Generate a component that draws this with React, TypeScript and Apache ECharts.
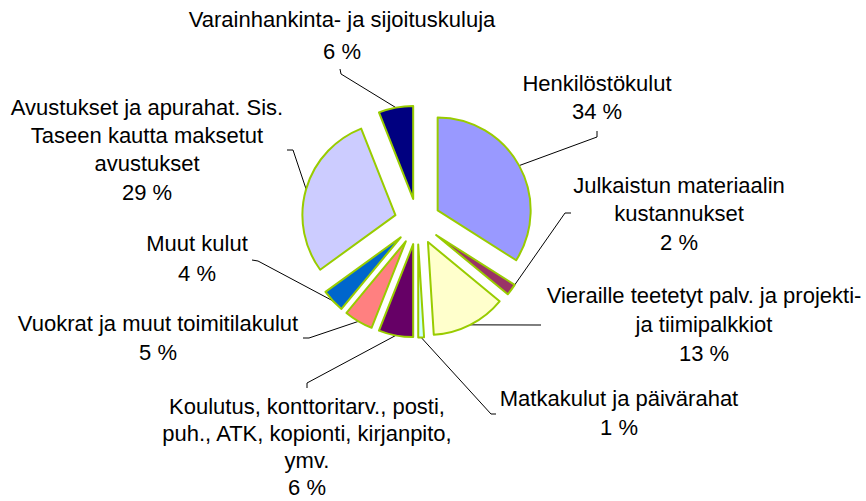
import React, { useEffect, useRef } from 'react';
import * as echarts from 'echarts';

// ---- data ----
const categories = [
  'Henkilöstökulut',
  'Julkaistun materiaalin\nkustannukset',
  'Vieraille teetetyt palv. ja projekti-\nja tiimipalkkiot',
  'Matkakulut ja päivärahat',
  'Koulutus, konttoritarv., posti,\npuh., ATK, kopionti, kirjanpito,\nymv.',
  'Vuokrat ja muut toimitilakulut',
  'Muut kulut',
  'Avustukset ja apurahat. Sis.\nTaseen kautta maksetut\navustukset',
  'Varainhankinta- ja sijoituskuluja',
];
const shares = [34, 2, 13, 1, 6, 5, 4, 29, 6];
const colors = ['#9999FF', '#993366', '#FFFFCC', '#CCFFFF', '#660066', '#FF8080', '#0066CC', '#CCCCFF', '#000080'];

// ---- layout (label box: center x, top y, line height; leader: label end point, elbow point) ----
const labelPos = [
  [597, 69, 28], [679, 171, 28.5], [704, 281, 29], [619, 384, 29], [307, 393, 27], [158, 309, 29], [197, 228, 30], [147, 93, 28.3], [342, 3, 32],
];
const leaderEnd = [
  [597, 131], [571, 213], [541, 325], [496, 414], [307, 388], [303, 338], [252, 260], [287, 150], [340, 69],
];
const leaderElbow = [
  [597, 137], [565, 213], [536, 325], [491, 414], [307, 383], [309, 338], [258, 261], [293, 150], [341, 74],
];

const CX = 417.5;
const CY = 221.5;
const R = 93;
const OFFSET = 23;
const FONT = '22px "Liberation Sans", Arial, sans-serif';

export default function App() {
  const ref = useRef<HTMLDivElement>(null);
  useEffect(() => {
    if (!ref.current) return;
    const chart = echarts.init(ref.current, undefined, { renderer: 'svg' });
    const total = shares.reduce((a, b) => a + b, 0);
    const anchor = (i: number) => {
      const before = shares.slice(0, i).reduce((a, b) => a + b, 0);
      const mid = ((before + shares[i] / 2) / total) * Math.PI * 2;
      return [CX + (OFFSET + R) * Math.sin(mid), CY - (OFFSET + R) * Math.cos(mid)];
    };
    const graphics: any[] = [];
    categories.forEach((name, i) => {
      const pct = Math.round((shares[i] / total) * 100);
      graphics.push({
        type: 'polyline',
        silent: true,
        shape: { points: [anchor(i), leaderElbow[i], leaderEnd[i]] },
        style: { stroke: '#000000', lineWidth: 1, fill: null },
      });
      graphics.push({
        type: 'text',
        silent: true,
        x: labelPos[i][0],
        y: labelPos[i][1],
        style: {
          text: name + '\n' + pct + ' %',
          font: FONT,
          lineHeight: labelPos[i][2],
          fill: '#000000',
          align: 'center',
          verticalAlign: 'top',
        },
      });
    });
    chart.setOption({
      animation: false,
      backgroundColor: '#ffffff',
      graphic: graphics,
      series: [
        {
          type: 'pie',
          center: [CX, CY],
          radius: [0, R],
          startAngle: 90,
          clockwise: true,
          selectedMode: 'multiple',
          selectedOffset: OFFSET,
          avoidLabelOverlap: false,
          emphasis: { disabled: true },
          itemStyle: { borderColor: '#99CC00', borderWidth: 2 },
          label: { show: false },
          labelLine: { show: false },
          data: categories.map((name, i) => ({
            name,
            value: shares[i],
            selected: true,
            itemStyle: { color: colors[i] },
          })),
        },
      ],
    });
    return () => chart.dispose();
  }, []);
  return (
    <div
      ref={ref}
      style={{ position: 'absolute', left: 0, top: 0, width: 866, height: 501, background: '#fff' }}
    />
  );
}
